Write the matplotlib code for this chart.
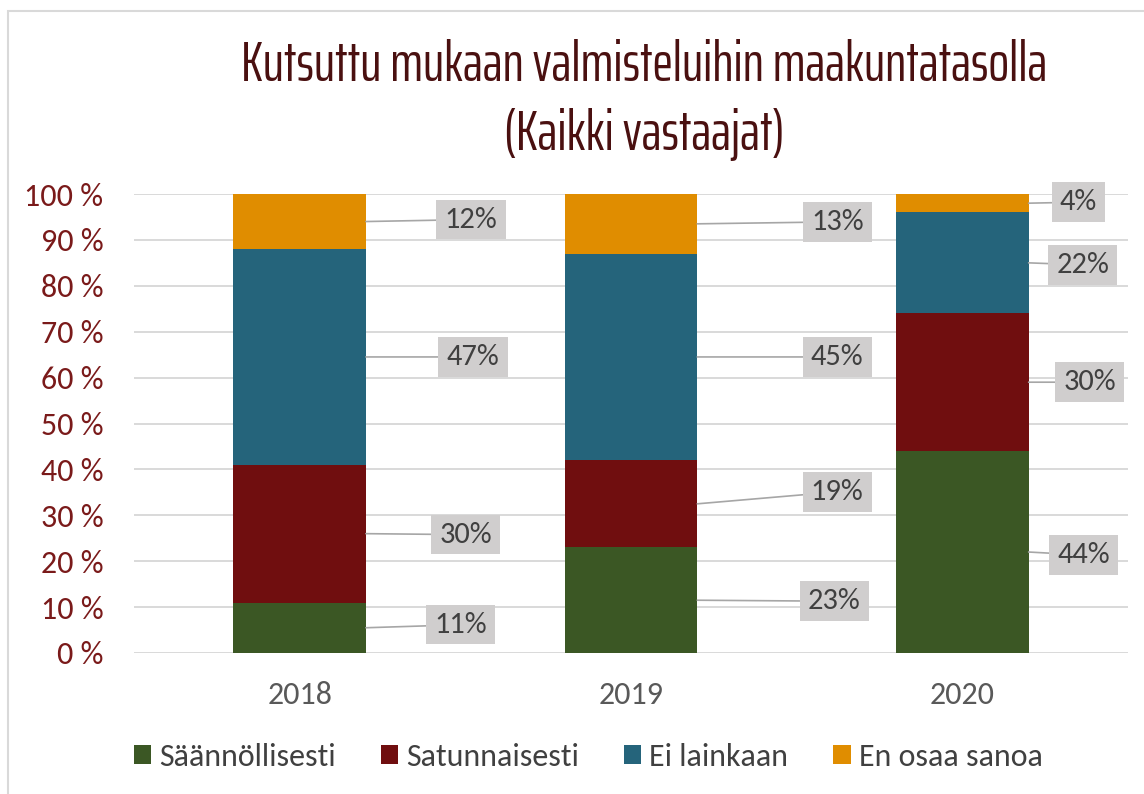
import matplotlib
matplotlib.use("Agg")
import matplotlib.pyplot as plt
from matplotlib.patches import Patch, Rectangle
from matplotlib.path import Path
import numpy as np

plt.rcParams['font.family'] = ['Carlito', 'Lato', 'DejaVu Sans']

years = ["2018", "2019", "2020"]
series_names = ["Säännöllisesti", "Satunnaisesti", "Ei lainkaan", "En osaa sanoa"]
saannollisesti = [11, 23, 44]
satunnaisesti = [30, 19, 30]
ei_lainkaan = [47, 45, 22]
en_osaa = [12, 13, 4]
yticks = [0, 10, 20, 30, 40, 50, 60, 70, 80, 90, 100]
title = "Kutsuttu mukaan valmisteluihin maakuntatasolla\n(Kaikki vastaajat)"

colors = ["#3B5724", "#700E0F", "#25647B", "#E08D00"]

# label offsets in pixels (dx from bar edge, dy) per year, per series
label_offsets = [
    [(95, 3), (100, -1), (107, 0), (105, 2)],
    [(137, -1), (140, 12), (140, 0), (140, 2)],
    [(55, -3), (61, 0), (54, -2), (50, 1)],
]


def label_box(x0, y0, width, height, mutation_size):
    px = 0.27 * mutation_size
    py = 0.22 * mutation_size
    x0, y0 = x0 - px, y0 - py
    x1, y1 = x0 + width + 2 * px, y0 + height + 2 * py
    return Path([(x0, y0), (x1, y0), (x1, y1), (x0, y1), (x0, y0)], closed=True)


W, H = 1144, 794
fig = plt.figure(figsize=(W / 100, H / 100), dpi=100)
ax = fig.add_axes([134 / W, (H - 653) / H, 994 / W, 459 / H])

# outer chart frame
fig.patches.append(Rectangle((8 / W, -0.1), 1.2, (H - 11) / H + 0.1, transform=fig.transFigure,
                             fill=False, edgecolor="#D9D9D9", linewidth=1.5))

x = np.arange(len(years))
width = 0.4
data = [saannollisesti, satunnaisesti, ei_lainkaan, en_osaa]
bottom = np.zeros(len(years))
for s, vals in enumerate(data):
    vals = np.array(vals, dtype=float)
    ax.bar(x, vals, width, bottom=bottom, color=colors[s], linewidth=0, zorder=3,
           label=series_names[s])
    for i in range(len(years)):
        mid = bottom[i] + vals[i] / 2
        dx, dy = label_offsets[i][s]
        ax.annotate(f"{int(vals[i])}%", xy=(x[i] + width / 2, mid), xycoords="data",
                    xytext=(dx, dy), textcoords="offset pixels",
                    ha="center", va="center", fontsize=22, color="#404040",
                    bbox=dict(boxstyle=label_box, fc="#D0CECE", ec="none"),
                    arrowprops=dict(arrowstyle="-", color="#A6A6A6", lw=1.2,
                                    shrinkA=0, shrinkB=0), zorder=4)
    bottom += vals

ax.set_xlim(-0.5, 2.5)
ax.set_ylim(0, 100)
ax.set_yticks(yticks)
ax.set_yticklabels([f"{v} %" for v in yticks])
ax.set_xticks(x)
ax.set_xticklabels(years)
ax.tick_params(axis="y", length=0, pad=22, labelsize=23, labelcolor="#7A1A1A")
ax.tick_params(axis="x", length=0, pad=20, labelsize=23, labelcolor="#595959")
ax.yaxis.grid(True, color="#D9D9D9", linewidth=1.4, zorder=0)
ax.set_axisbelow(True)
for sp in ax.spines.values():
    sp.set_visible(False)

fig.text(644 / W, 1 - 100 / H, title, ha="center", va="center", fontsize=39.5,
         color="#4A1010", family=["Saira ExtraCondensed", "DejaVu Sans"], linespacing=1.38)

handles = [Patch(facecolor=c, edgecolor="none") for c in colors]
fig.legend(handles, series_names, loc="center", bbox_to_anchor=(588 / W, (H - 757) / H),
           ncol=4, frameon=False, fontsize=23, labelcolor="#404040",
           handlelength=0.55, handleheight=0.55, handletextpad=0.25, columnspacing=1.4)

fig.savefig("out.png", dpi=100)
